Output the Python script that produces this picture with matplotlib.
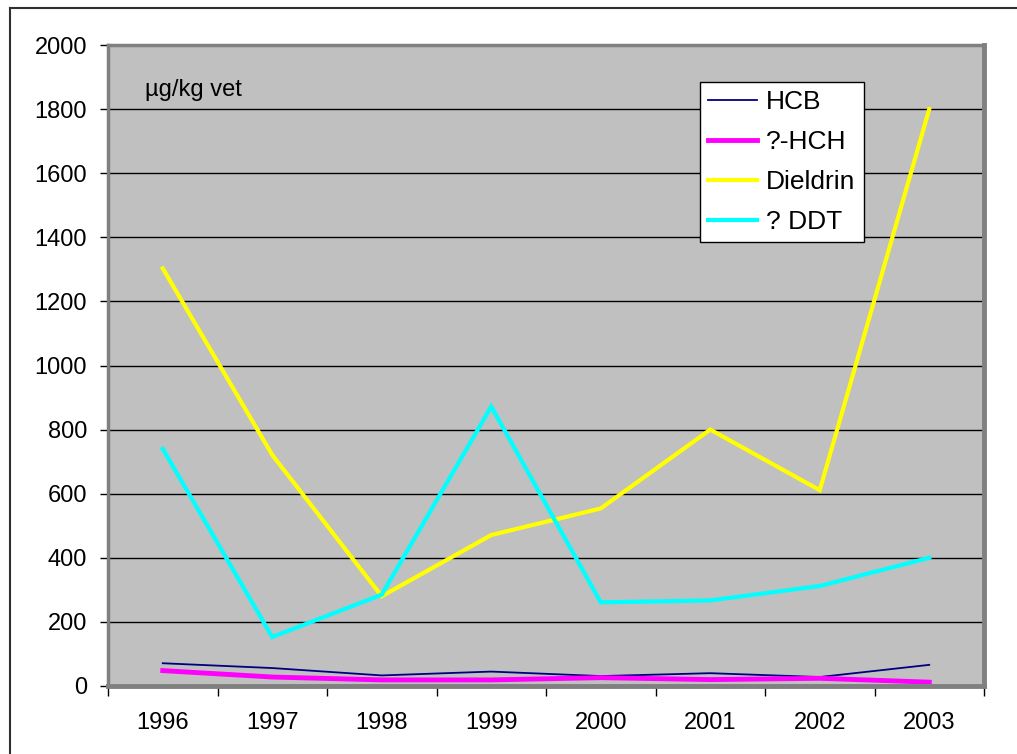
import matplotlib.pyplot as plt
from matplotlib.lines import Line2D

years = ['1996', '1997', '1998', '1999', '2000', '2001', '2002', '2003']
hcb = [71, 56, 33, 45, 31, 40, 28, 66]
hch = [48, 28, 19, 19, 26, 20, 24, 12]
dieldrin = [1303, 721, 280, 471, 554, 800, 611, 1800]
ddt = [740, 153, 285, 872, 261, 267, 312, 400]

labels = ['HCB', '?-HCH', 'Dieldrin', '? DDT']
colors = ['#000080', '#FF00FF', '#FFFF00', '#00FFFF']
widths = [1.3, 3.5, 3.0, 3.0]

plt.rcParams['font.family'] = ['Liberation Sans', 'DejaVu Sans']

W, H = 1017, 754
fig = plt.figure(figsize=(W / 100, H / 100), dpi=100)
ax = fig.add_axes([108 / W, 1 - 686 / H, (984 - 108) / W, (686 - 45) / H])
ax.set_facecolor('#C0C0C0')

x = range(len(years))
for vals, c, lw, lab in zip([hcb, hch, dieldrin, ddt], colors, widths, labels):
    ax.plot(x, vals, color=c, lw=lw, label=lab, solid_joinstyle='miter')

ax.set_xlim(-0.5, len(years) - 0.5)
ax.set_ylim(0, 2000)
ax.set_yticks(range(0, 2001, 200))
ax.yaxis.grid(True, color='black', lw=1)
ax.set_axisbelow(True)

ax.set_xticks(list(x))
ax.set_xticklabels(years)
ax.set_xticks([i - 0.5 for i in range(len(years) + 1)], minor=True)
ax.tick_params(axis='x', which='major', length=0, pad=19, labelsize=17)
ax.tick_params(axis='x', which='minor', length=7, width=1, color='black')
ax.tick_params(axis='y', length=6, width=1, color='black', pad=9, labelsize=17)

for side in ['left', 'top']:
    ax.spines[side].set_color('#808080')
    ax.spines[side].set_linewidth(2.5)
for side in ['right', 'bottom']:
    ax.spines[side].set_color('#808080')
    ax.spines[side].set_linewidth(3.5)

ax.text(0.042, 0.93, 'µg/kg vet', transform=ax.transAxes,
        fontsize=17, va='center', ha='left')

leg = ax.legend(loc='upper left', bbox_to_anchor=(700 / W, 1 - 82 / H),
                bbox_transform=fig.transFigure, fontsize=19, frameon=True,
                fancybox=False, framealpha=1, edgecolor='black',
                handlelength=1.85, labelspacing=0.6, borderpad=0.32,
                handletextpad=0.34, borderaxespad=0)
leg.get_frame().set_linewidth(1)

# outer chart frame (only top and left edges visible)
fig.add_artist(Line2D([10 / W, 1], [1 - 8 / H, 1 - 8 / H], color='#303030', lw=1.5,
                      transform=fig.transFigure))
fig.add_artist(Line2D([10 / W, 10 / W], [0, 1 - 8 / H], color='#303030', lw=1.5,
                      transform=fig.transFigure))

fig.savefig('out.png', dpi=100)
